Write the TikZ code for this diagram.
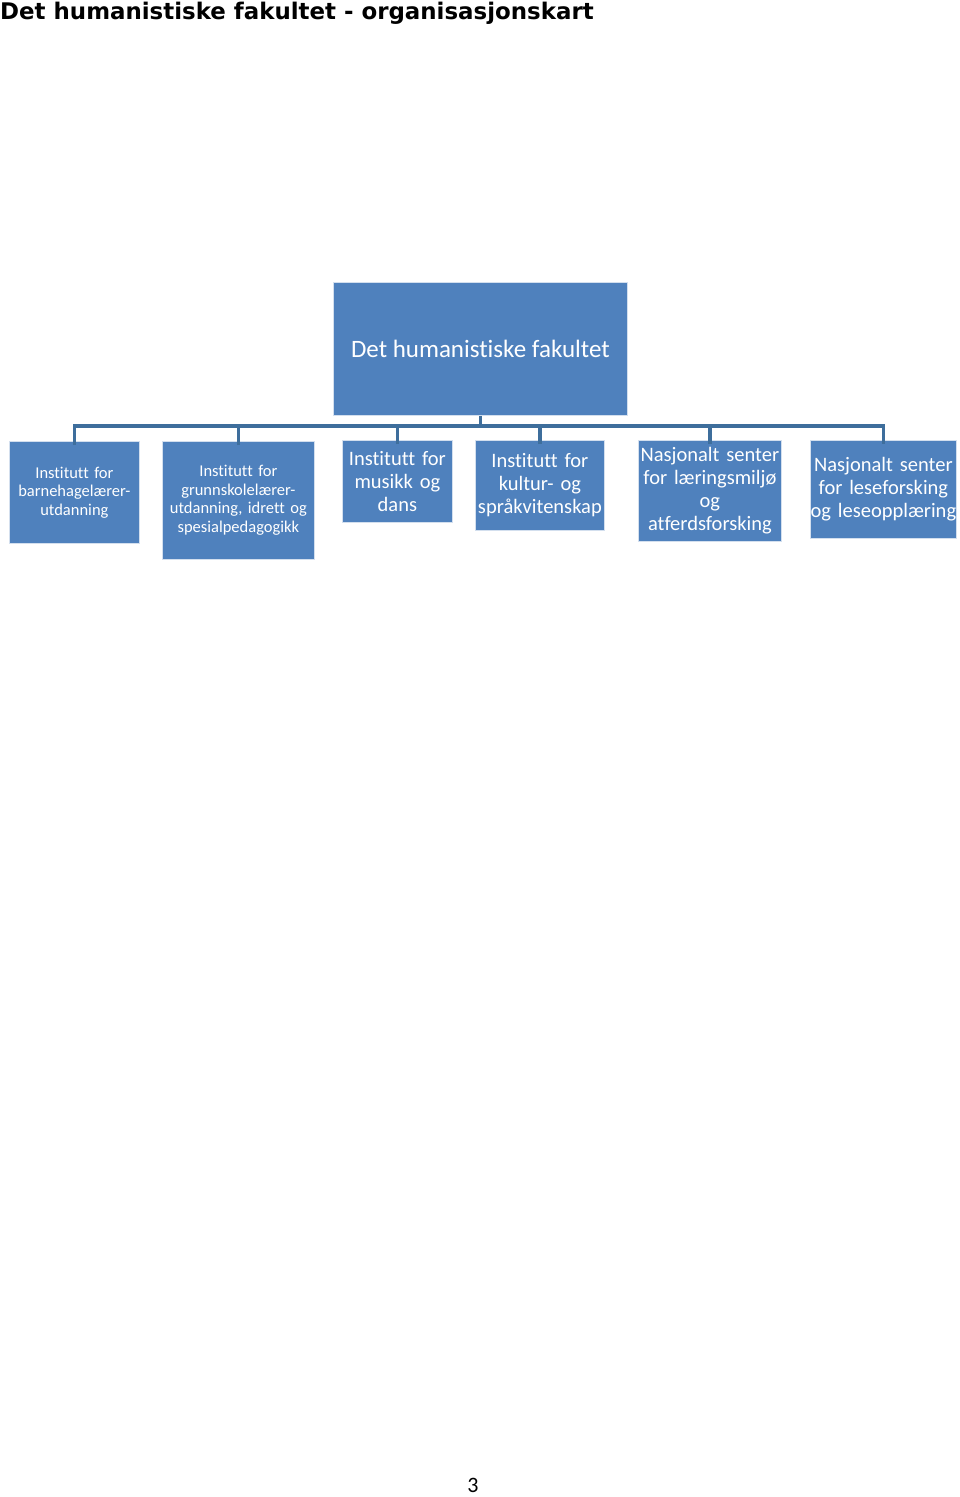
\documentclass[tikz,border=0pt]{standalone}
\usepackage{fontspec}
\setmainfont{Carlito}[Ligatures=NoCommon]
\newfontfamily\titlefont{DejaVu Sans}
\definecolor{boxblue}{RGB}{79,129,189}
\definecolor{linkblue}{RGB}{62,110,156}
\begin{document}
\begin{tikzpicture}[x=1pt,y=-1pt,
  unitbox/.style={draw=white!75!boxblue, line width=0.8pt, fill=boxblue, text=white, align=center, inner sep=0pt, anchor=north west},
  bigtext/.style={font=\fontsize{20.5}{23}\selectfont},
  smalltext/.style={font=\fontsize{16.5}{18.5}\selectfont},
  link/.style={draw=linkblue, line width=3.5pt}
]
\useasboundingbox[fill=white] (0,0) rectangle (960,1497);
\node[anchor=base west, inner sep=0pt, font=\titlefont\bfseries\fontsize{22.9}{26}\selectfont] (title) at (0,19) {Det humanistiske fakultet - organisasjonskart};

\node[unitbox, minimum width=294, minimum height=133, font=\fontsize{25}{30}\selectfont] (top) at (333,282) {Det humanistiske fakultet};

\node[unitbox, smalltext, minimum width=130, minimum height=102, text width=130] (c1) at (9,441) {Institutt for\\barnehagelærer-\\utdanning};
\node[unitbox, smalltext, minimum width=152, minimum height=118, text width=152] (c2) at (162,441) {Institutt for\\grunnskolelærer-\\utdanning, idrett og\\spesialpedagogikk};
\node[unitbox, bigtext, minimum width=110, minimum height=82, text width=110] (c3) at (342,440) {Institutt for\\musikk og\\dans};
\node[unitbox, bigtext, minimum width=129, minimum height=90, text width=129] (c4) at (475,440) {Institutt for\\kultur- og\\språkvitenskap};
\node[unitbox, bigtext, minimum width=143, minimum height=101, text width=143] (c5) at (638,440) {Nasjonalt senter\\for læringsmiljø\\og\\atferdsforsking};
\node[unitbox, bigtext, minimum width=146, minimum height=98, text width=146] (c6) at (810,440) {Nasjonalt senter\\for leseforsking\\og leseopplæring};

\coordinate (bus) at (0,426);
\draw[link] (top.south) -- (top.south |- bus);
\draw[link] ([yshift=-4pt]c1.north) -- (c1.north |- bus) -- (c6.north |- bus) -- ([yshift=-4pt]c6.north);
\foreach \c in {c2,c3,c4,c5}
  \draw[link] ([yshift=-4pt]\c.north) -- (\c.north |- bus);

\node[font=\fontsize{22}{26}\selectfont, inner sep=0pt, anchor=base] (page) at (473,1492) {3};
\end{tikzpicture}
\end{document}
